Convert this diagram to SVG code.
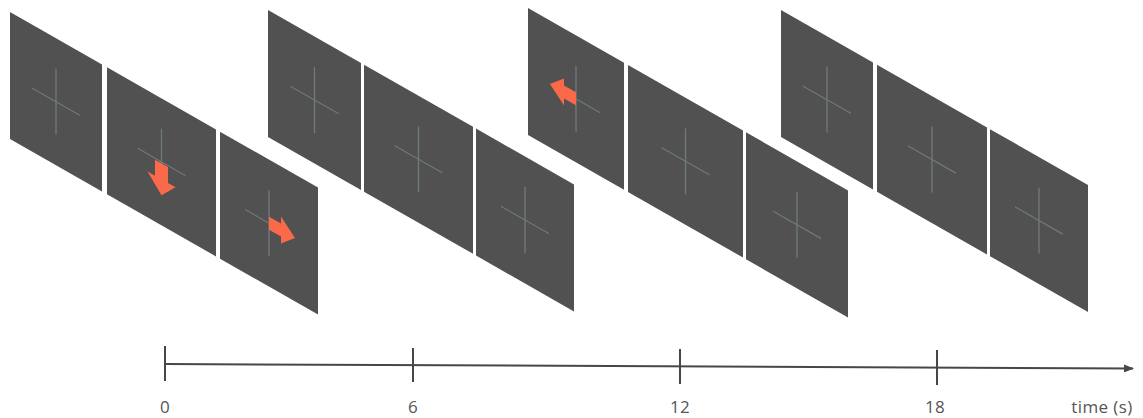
<svg xmlns="http://www.w3.org/2000/svg" width="1143" height="418" viewBox="0 0 1143 418">
<style>
.panel{fill:#515151}
.cross{stroke:#707c7a;stroke-width:1.3;fill:none}
.arrow{fill:#fa6a4a}
.axis{stroke:#474747;stroke-width:2;fill:none}
.lbl{font-family:"Open Sans","Liberation Sans",sans-serif;font-size:17px;letter-spacing:0.4px;fill:#555555;text-anchor:middle}
</style>
<defs>
<marker id="ah" markerWidth="10" markerHeight="8" refX="9" refY="4" orient="auto" markerUnits="userSpaceOnUse">
<path d="M0,0 L10,4 L0,8 Z" fill="#474747"/>
</marker>
<g id="crossT"><line class="cross" x1="0" y1="-33" x2="0" y2="33"/><line class="cross" x1="-24" y1="0" x2="24" y2="0"/></g>
</defs>
<rect width="1143" height="418" fill="#ffffff"/>
<g id="group1" transform="translate(10,12) matrix(1,0.57,0,1,0,0)">
<g id="g1p1"><rect class="panel" x="0" y="0" width="92" height="127"/><use href="#crossT" x="46" y="63.5"/></g>
<g id="g1p2"><rect class="panel" x="97" y="0" width="109" height="127"/><use href="#crossT" x="151.5" y="63.5"/>
<polygon class="arrow" points="145,65 158,65 158,81 165.5,81 151.5,97 137.5,81 145,81"/></g>
<g id="g1p3"><rect class="panel" x="210" y="0" width="98" height="127"/><use href="#crossT" x="259" y="63.5"/>
<polygon class="arrow" points="259,57 271,57 271,50 285,63.5 271,77 271,70 259,70"/></g>
</g>
<g id="group2" transform="translate(268,10) matrix(1,0.57,0,1,0,0)">
<g id="g2p1"><rect class="panel" x="0" y="0" width="93" height="127"/><use href="#crossT" x="46.5" y="63.5"/></g>
<g id="g2p2"><rect class="panel" x="96" y="0" width="109" height="127"/><use href="#crossT" x="150.5" y="63.5"/></g>
<g id="g2p3"><rect class="panel" x="208" y="0" width="98" height="127"/><use href="#crossT" x="257" y="63.5"/></g>
</g>
<g id="group3" transform="translate(528,8) matrix(1,0.57,0,1,0,0)">
<g id="g3p1"><rect class="panel" x="0" y="0" width="96" height="127"/><use href="#crossT" x="48" y="63.5"/>
<polygon class="arrow" points="48,57 36,57 36,50 22,63.5 36,77 36,70 48,70"/></g>
<g id="g3p2"><rect class="panel" x="100" y="0" width="115" height="127"/><use href="#crossT" x="157.5" y="63.5"/></g>
<g id="g3p3"><rect class="panel" x="218" y="0" width="102" height="127"/><use href="#crossT" x="269" y="63.5"/></g>
</g>
<g id="group4" transform="translate(781,10) matrix(1,0.57,0,1,0,0)">
<g id="g4p1"><rect class="panel" x="0" y="0" width="92" height="127"/><use href="#crossT" x="46" y="63.5"/></g>
<g id="g4p2"><rect class="panel" x="96" y="0" width="110" height="127"/><use href="#crossT" x="151" y="63.5"/></g>
<g id="g4p3"><rect class="panel" x="209" y="0" width="98" height="127"/><use href="#crossT" x="258" y="63.5"/></g>
</g>
<g id="connectors">
<line class="axis" x1="165" y1="364" x2="1133" y2="368.5" marker-end="url(#ah)"/>
<line class="axis" x1="165" y1="346" x2="165" y2="381"/>
<line class="axis" x1="413" y1="348" x2="413" y2="382"/>
<line class="axis" x1="680" y1="349" x2="680" y2="384"/>
<line class="axis" x1="937" y1="350" x2="937" y2="385"/>
</g>
<g id="labels">
<text class="lbl" x="165" y="413">0</text>
<text class="lbl" x="413" y="413">6</text>
<text class="lbl" x="680" y="413">12</text>
<text class="lbl" x="935" y="413">18</text>
<text class="lbl" x="1102" y="413">time (s)</text>
</g>
</svg>
